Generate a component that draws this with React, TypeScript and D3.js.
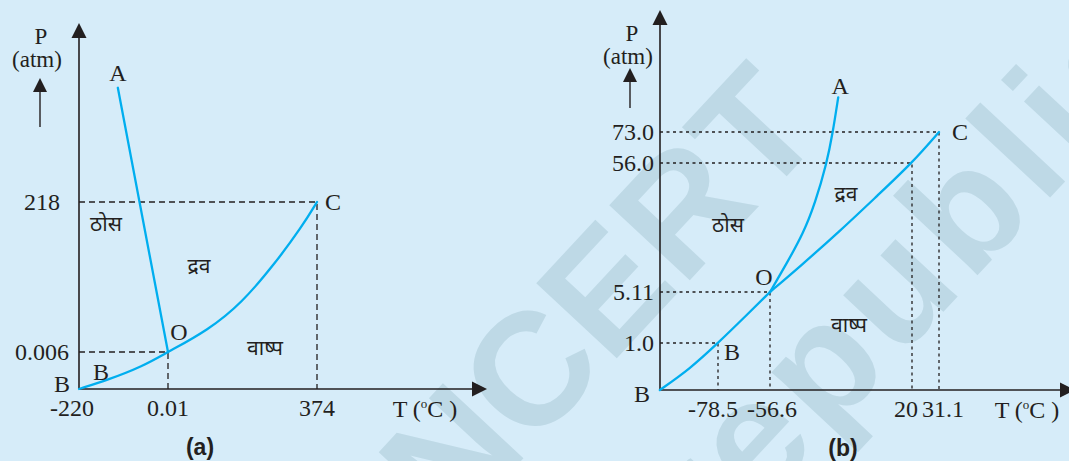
import * as d3 from "d3";
import { useRef, useEffect } from "react";

// (a) water: temperature (°C) and pressure (atm) tick values
const tempTicksA = [-220, 0.01, 374];
const tempLabelsA = ["-220", "0.01", "374"];
const pressTicksA = [0, 0.006, 218];
const pressLabelsA = ["", "0.006", "218"];
// curve B-O (sublimation), O-C (vaporisation), O-A (fusion)
const sublimTempA = [-220, -148, -65, 0.01];
const sublimPressA = [0, 0.0015, 0.0036, 0.006];
const vapTempA = [0.01, 101, 185, 269, 336, 374];
const vapPressA = [0.006, 32, 71, 129, 182, 218];
const fusTempA = [0.01, -124];
const fusPressA = [0.006, 384];
const guideTempA = [0.01, 374];
const guidePressA = [0.006, 218];

// (b) carbon dioxide
const tempTicksB = [-78.5, -56.6, 20, 31.1];
const tempLabelsB = ["-78.5", "-56.6", "20", "31.1"];
const pressTicksB = [0, 1.0, 5.11, 56.0, 73.0];
const pressLabelsB = ["", "1.0", "5.11", "56.0", "73.0"];
const sublimTempB = [-103, -90.3, -78.5, -67.8, -56.6];
const sublimPressB = [0, 0.45, 1.0, 2.99, 5.11];
const vapTempB = [-56.6, -40.4, -18.8, 1.7, 20, 31.1];
const vapPressB = [5.11, 15.2, 29.2, 43.4, 56.0, 73.0];
const fusTempB = [-56.6, -47.6, -38.6, -32.3, -26.0, -22.8, -19.8];
const fusPressB = [5.11, 16.4, 28.3, 40.1, 55.9, 72.3, 92.0];
const guideTempB = [-78.5, -56.6, 20, 31.1];
const guidePressB = [1.0, 5.11, 56.0, 73.0];

const phaseNames = ["ठोस", "द्रव", "वाष्प"];

const BLUE = "#00aeef";
const INK = "#231f20";
const SERIF = "'Liberation Serif', 'Times New Roman', serif";
const SANS = "'Liberation Sans', Arial, sans-serif";
const DEVA = "'Noto Sans Devanagari', 'Lohit Devanagari', 'Noto Sans', sans-serif";

function zip(a, b) {
  return a.map((v, i) => [v, b[i]]);
}

function drawDiagram(svg, cfg) {
  const x = d3.scaleLinear().domain(cfg.tempTicks).range(cfg.xRange);
  const y = d3.scaleLinear().domain(cfg.pressTicks).range(cfg.yRange);
  const ox = cfg.originX;
  const oy = y(0);
  const g = svg.append("g");

  // dashed guides to the special points
  zip(cfg.guideTemp, cfg.guidePress).forEach(([t, p]) => {
    g.append("path")
      .attr("d", `M${ox},${y(p)}H${x(t)}V${oy}`)
      .attr("fill", "none")
      .attr("stroke", INK)
      .attr("stroke-width", 1.3)
      .attr("stroke-dasharray", cfg.dash);
  });

  // axes with arrow heads
  g.append("line").attr("x1", ox).attr("y1", oy).attr("x2", ox).attr("y2", cfg.yTip + 12)
    .attr("stroke", INK).attr("stroke-width", 1.6);
  g.append("line").attr("x1", ox).attr("y1", oy).attr("x2", cfg.xTip - 12).attr("y2", oy)
    .attr("stroke", INK).attr("stroke-width", 1.6);
  g.append("path")
    .attr("d", `M${ox},${cfg.yTip}L${ox - 7.5},${cfg.yTip + 15}L${ox + 7.5},${cfg.yTip + 15}Z`)
    .attr("fill", INK);
  g.append("path")
    .attr("d", `M${cfg.xTip},${oy}L${cfg.xTip - 15},${oy - 7.5}L${cfg.xTip - 15},${oy + 7.5}Z`)
    .attr("fill", INK);

  // small arrow under P (atm)
  const ax = cfg.pArrow[0];
  g.append("line").attr("x1", ax).attr("y1", cfg.pArrow[2]).attr("x2", ax).attr("y2", cfg.pArrow[1] + 12)
    .attr("stroke", INK).attr("stroke-width", 1.4);
  g.append("path")
    .attr("d", `M${ax},${cfg.pArrow[1]}L${ax - 7},${cfg.pArrow[1] + 14}L${ax + 7},${cfg.pArrow[1] + 14}Z`)
    .attr("fill", INK);

  // phase boundaries
  const line = d3.line().x(d => x(d[0])).y(d => y(d[1]));
  const curves = [
    [zip(cfg.sublimTemp, cfg.sublimPress), d3.curveBasis],
    [zip(cfg.vapTemp, cfg.vapPress), d3.curveBasis],
    [zip(cfg.fusTemp, cfg.fusPress), cfg.fusCurve],
  ];
  curves.forEach(([pts, curve]) => {
    g.append("path")
      .attr("d", line.curve(curve)(pts))
      .attr("fill", "none").attr("stroke", BLUE).attr("stroke-width", 2.3)
      .attr("stroke-linecap", "round");
  });

  const text = (tx, ty, s, anchor = "middle", size = 24, family = SERIF) =>
    g.append("text").attr("x", tx).attr("y", ty).attr("text-anchor", anchor)
      .attr("font-family", family).attr("font-size", size).attr("fill", INK).text(s);

  // tick labels
  cfg.tempTicks.forEach((t, i) => text(x(t) + cfg.xLabelShift[i], oy + 27, cfg.tempLabels[i]));
  cfg.pressTicks.forEach((p, i) => {
    if (cfg.pressLabels[i]) text(cfg.yLabelX, y(p) + 8, cfg.pressLabels[i], cfg.yLabelAnchor);
  });

  // axis titles
  text(cfg.pLabel[0], cfg.pLabel[1], "P", "middle", 23);
  text(cfg.pLabel[0] - 4, cfg.pLabel[1] + 23, "(atm)", "middle", 23);
  const tt = g.append("text").attr("x", cfg.tLabel[0]).attr("y", oy + 28).attr("text-anchor", "middle")
    .attr("font-family", SERIF).attr("font-size", 24).attr("fill", INK);
  tt.append("tspan").text("T (");
  tt.append("tspan").attr("dy", -9).attr("font-size", 13).text("o");
  tt.append("tspan").attr("dy", 9).text("C )");

  // point labels
  const nF = cfg.fusTemp.length - 1;
  const nV = cfg.vapTemp.length - 1;
  text(x(cfg.fusTemp[nF]) + cfg.aOff[0], y(cfg.fusPress[nF]) + cfg.aOff[1], "A");
  text(x(cfg.vapTemp[nV]) + cfg.cOff[0], y(cfg.vapPress[nV]) + cfg.cOff[1], "C");
  text(x(cfg.vapTemp[0]) + cfg.oOff[0], y(cfg.vapPress[0]) + cfg.oOff[1], "O");
  text(ox + cfg.bOff[0], oy + cfg.bOff[1], "B");
  text(cfg.bCurve[0], cfg.bCurve[1], "B");

  cfg.phasePos.forEach((pos, i) => text(pos[0], pos[1], phaseNames[i], "middle", 21, DEVA));

  g.append("text").attr("x", cfg.caption[0]).attr("y", cfg.caption[1]).attr("text-anchor", "middle")
    .attr("font-family", SANS).attr("font-weight", "bold")
    .attr("font-size", 23).attr("fill", INK).text(cfg.captionText);
}

export default function App() {
  const ref = useRef(null);

  useEffect(() => {
    const width = 1069;
    const height = 461;
    const svg = d3.select(ref.current);
    svg.selectAll("*").remove();
    svg.attr("width", width).attr("height", height);

    svg.append("rect").attr("width", width).attr("height", height).attr("fill", "#d6ecf9");

    // faint publisher watermark behind the diagrams
    const wm = svg.append("g").attr("fill", "#bed9e6")
      .attr("font-family", SANS).attr("font-weight", "bold").attr("font-size", 160);
    wm.append("text").attr("transform", "translate(452,535) rotate(-47)").text("NCERT");
    wm.append("text").attr("transform", "translate(712,560) rotate(-47)")
      .attr("letter-spacing", 8).text("republished");

    drawDiagram(svg, {
      tempTicks: tempTicksA, tempLabels: tempLabelsA, pressTicks: pressTicksA, pressLabels: pressLabelsA,
      sublimTemp: sublimTempA, sublimPress: sublimPressA, vapTemp: vapTempA, vapPress: vapPressA,
      fusTemp: fusTempA, fusPress: fusPressA, fusCurve: d3.curveLinear,
      guideTemp: guideTempA, guidePress: guidePressA,
      xRange: [79, 168, 317], yRange: [389, 352, 202], originX: 79,
      yTip: 23, xTip: 487, dash: "6,4", pArrow: [40, 78, 127],
      xLabelShift: [-7, 0, 0], yLabelX: 42, yLabelAnchor: "middle",
      pLabel: [41, 44], tLabel: [425],
      aOff: [0, -7], cOff: [16, 8], oOff: [11, -12], bOff: [-17, 3], bCurve: [101, 380],
      phasePos: [[106, 231], [199, 273], [265, 355]],
      caption: [200, 455], captionText: "(a)",
    });

    drawDiagram(svg, {
      tempTicks: tempTicksB, tempLabels: tempLabelsB, pressTicks: pressTicksB, pressLabels: pressLabelsB,
      sublimTemp: sublimTempB, sublimPress: sublimPressB, vapTemp: vapTempB, vapPress: vapPressB,
      fusTemp: fusTempB, fusPress: fusPressB, fusCurve: d3.curveBasis,
      guideTemp: guideTempB, guidePress: guidePressB,
      xRange: [718, 770, 912, 939], yRange: [390, 343, 292, 163, 132], originX: 660,
      yTip: 10, xTip: 1075, dash: "3,3.5", pArrow: [630, 68, 108],
      xLabelShift: [-5, 2, -6, 4], yLabelX: 654, yLabelAnchor: "end",
      pLabel: [632, 41], tLabel: [1027],
      aOff: [2, -3], cOff: [21, 8], oOff: [-6, -7], bOff: [-18, 12], bCurve: [732, 360],
      phasePos: [[728, 232], [846, 201], [849, 332]],
      caption: [843, 456], captionText: "(b)",
    });
  }, []);

  return <svg ref={ref} style={{ position: "fixed", left: 0, top: 0, display: "block" }}></svg>;
}
